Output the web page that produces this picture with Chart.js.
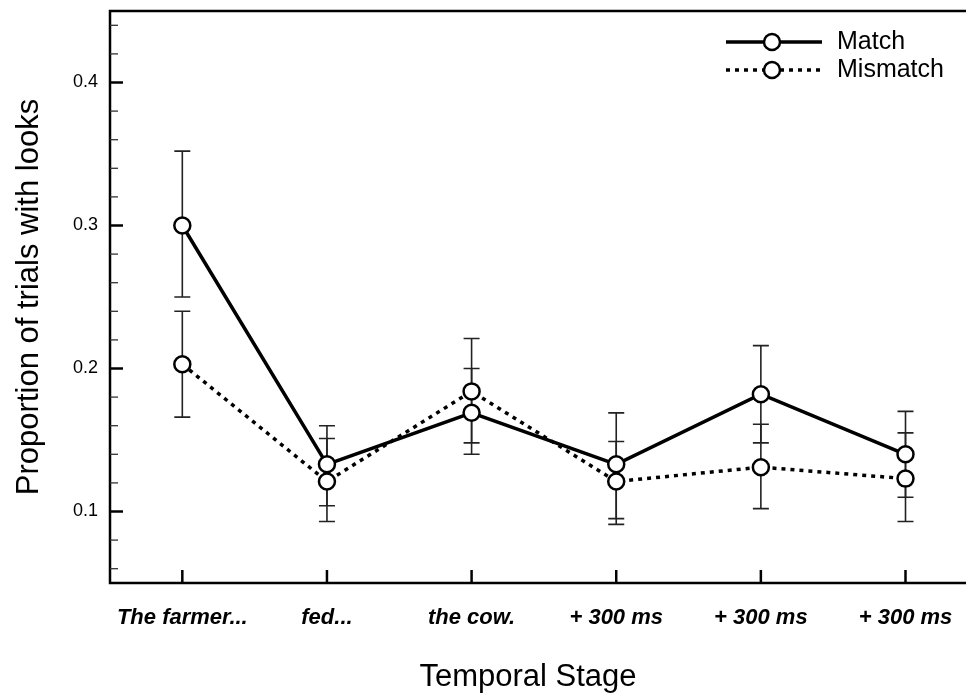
<!DOCTYPE html>
<html>
<head>
<meta charset="utf-8">
<script src="https://cdn.jsdelivr.net/npm/chart.js@4/dist/chart.umd.min.js"></script>
<style>
  html, body { margin: 0; padding: 0; background: #fff; overflow: hidden; }
  #wrap { width: 966px; height: 698px; }
</style>
</head>
<body>
<div id="wrap"><canvas id="c" width="966" height="698"></canvas></div>
<script>
const categories = ['The farmer...', 'fed...', 'the cow.', '+ 300 ms', '+ 300 ms', '+ 300 ms'];
const matchValues = [0.300, 0.133, 0.169, 0.133, 0.182, 0.140];
const matchUpper = [0.352, 0.160, 0.200, 0.169, 0.216, 0.170];
const matchLower = [0.250, 0.104, 0.140, 0.095, 0.148, 0.110];
const mismatchValues = [0.203, 0.121, 0.184, 0.121, 0.131, 0.123];
const mismatchUpper = [0.240, 0.151, 0.221, 0.149, 0.161, 0.155];
const mismatchLower = [0.166, 0.093, 0.148, 0.091, 0.102, 0.093];
const yTickValues = [0.1, 0.2, 0.3, 0.4];
const seriesNames = ['Match', 'Mismatch'];

const FONT = '"Liberation Sans", Arial, Helvetica, sans-serif';

const errorSets = [
  { upper: matchUpper, lower: matchLower },
  { upper: mismatchUpper, lower: mismatchLower }
];

const framePlugin = {
  id: 'frame',
  beforeDatasetsDraw(chart) {
    const ctx = chart.ctx;
    const xs = chart.scales.x, ys = chart.scales.y;
    const a = chart.chartArea;
    ctx.save();
    // error bars
    ctx.strokeStyle = '#222';
    ctx.lineWidth = 1.6;
    errorSets.forEach(es => {
      es.upper.forEach((hi, i) => {
        const x = xs.getPixelForValue(i);
        const yH = ys.getPixelForValue(hi);
        const yL = ys.getPixelForValue(es.lower[i]);
        ctx.beginPath();
        ctx.moveTo(x, yH); ctx.lineTo(x, yL);
        ctx.moveTo(x - 8, yH); ctx.lineTo(x + 8, yH);
        ctx.moveTo(x - 8, yL); ctx.lineTo(x + 8, yL);
        ctx.stroke();
      });
    });
    // axes
    ctx.strokeStyle = '#000';
    ctx.lineWidth = 2.5;
    ctx.beginPath();
    ctx.moveTo(chart.width, a.top);
    ctx.lineTo(a.left, a.top);
    ctx.lineTo(a.left, a.bottom);
    ctx.lineTo(chart.width, a.bottom);
    ctx.stroke();
    // y ticks (inward)
    for (let k = 3; k <= 22; k++) {
      const v = k * 0.02;
      const major = k % 5 === 0;
      const y = ys.getPixelForValue(v);
      ctx.lineWidth = major ? 2.5 : 1.3;
      ctx.strokeStyle = major ? '#000' : '#333';
      ctx.beginPath();
      ctx.moveTo(a.left, y);
      ctx.lineTo(a.left + (major ? 13 : 8), y);
      ctx.stroke();
    }
    // x ticks (inward)
    ctx.lineWidth = 2.5;
    ctx.strokeStyle = '#000';
    categories.forEach((c, i) => {
      const x = xs.getPixelForValue(i);
      ctx.beginPath();
      ctx.moveTo(x, a.bottom);
      ctx.lineTo(x, a.bottom - 13);
      ctx.stroke();
    });
    ctx.restore();
  },
  afterDraw(chart) {
    const ctx = chart.ctx;
    const a = chart.chartArea;
    ctx.save();
    chart.data.datasets.forEach((ds, i) => {
      const y = a.top + 31 + i * 28;
      const x0 = 726, x1 = 822, cx = 772;
      ctx.strokeStyle = '#000';
      ctx.lineWidth = ds.borderWidth;
      ctx.setLineDash(ds.borderDash || []);
      ctx.beginPath();
      ctx.moveTo(x0, y); ctx.lineTo(cx - 8, y);
      ctx.moveTo(cx + 8, y); ctx.lineTo(x1, y);
      ctx.stroke();
      ctx.setLineDash([]);
      ctx.lineWidth = 2.5;
      ctx.fillStyle = '#fff';
      ctx.beginPath();
      ctx.arc(cx, y, 8, 0, Math.PI * 2);
      ctx.fill(); ctx.stroke();
      ctx.fillStyle = '#000';
      ctx.font = '25px ' + FONT;
      ctx.textAlign = 'left';
      ctx.textBaseline = 'middle';
      ctx.fillText(ds.label, 837, y);
    });
    ctx.restore();
  }
};

new Chart(document.getElementById('c'), {
  type: 'line',
  data: {
    datasets: [
      {
        label: seriesNames[0],
        data: matchValues.map((v, i) => ({ x: i, y: v })),
        borderColor: '#000',
        borderWidth: 3.5,
        pointRadius: 8,
        pointBorderWidth: 2.5,
        pointBackgroundColor: '#fff',
        pointBorderColor: '#000',
        tension: 0
      },
      {
        label: seriesNames[1],
        data: mismatchValues.map((v, i) => ({ x: i, y: v })),
        borderColor: '#000',
        borderWidth: 3.5,
        borderDash: [4, 5],
        pointRadius: 8,
        pointBorderWidth: 2.5,
        pointBackgroundColor: '#fff',
        pointBorderColor: '#000',
        tension: 0
      }
    ]
  },
  options: {
    responsive: false,
    animation: false,
    layout: { padding: { top: 11, right: 20, left: 0, bottom: 0 } },
    plugins: { legend: { display: false }, tooltip: { enabled: false } },
    scales: {
      x: {
        type: 'linear',
        min: -0.5,
        max: 5.28,
        grid: { display: false, drawTicks: false },
        border: { display: false },
        afterBuildTicks: (s) => { s.ticks = categories.map((c, i) => ({ value: i })); },
        afterFit: (s) => { s.height = 115; s.paddingLeft = 0; s.paddingRight = 0; },
        ticks: {
          autoSkip: false,
          maxRotation: 0,
          padding: 22,
          color: '#000',
          font: { family: FONT, size: 22, style: 'italic', weight: 'bold' },
          callback: (v) => categories[v]
        },
        title: {
          display: true,
          text: 'Temporal Stage',
          color: '#000',
          font: { family: FONT, size: 31 },
          padding: { top: 0, bottom: 2 }
        }
      },
      y: {
        min: 0.05,
        max: 0.45,
        grid: { display: false, drawTicks: false },
        border: { display: false },
        afterBuildTicks: (s) => { s.ticks = yTickValues.map(v => ({ value: v })); },
        afterFit: (s) => { s.width = 110; s.paddingTop = 0; s.paddingBottom = 0; },
        ticks: {
          padding: 12,
          color: '#000',
          font: { family: FONT, size: 18 },
          callback: (v) => v.toFixed(1)
        },
        title: {
          display: true,
          text: 'Proportion of trials with looks',
          color: '#000',
          font: { family: FONT, size: 31 },
          padding: { top: 11, bottom: 0 }
        }
      }
    }
  },
  plugins: [framePlugin]
});
</script>
</body>
</html>
